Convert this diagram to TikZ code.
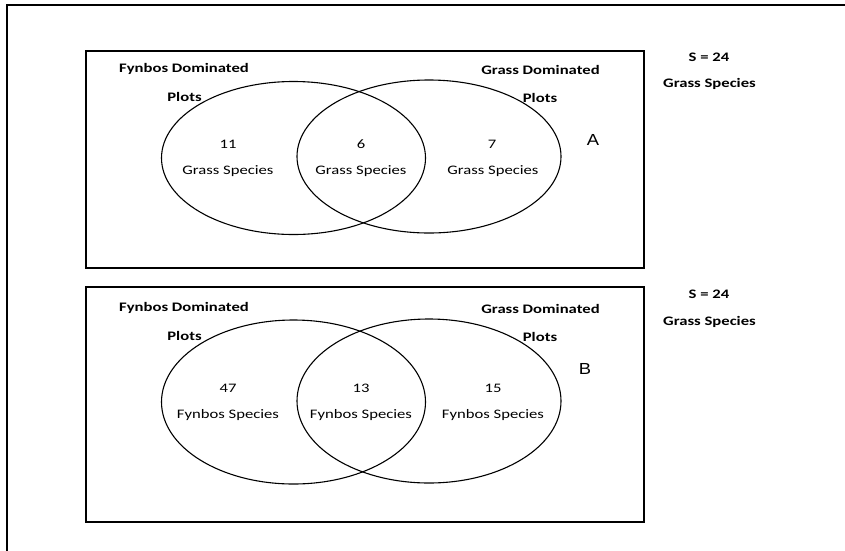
\documentclass[tikz,border=0pt]{standalone}
\usepackage{fontspec}
\setmainfont{Carlito}[FakeStretch=1.28]
\newfontfamily\panelfont{Liberation Sans}[FakeStretch=1.15]
\usetikzlibrary{shapes.geometric}
\begin{document}
\begin{tikzpicture}[x=1pt,y=-1pt,line width=1.2pt,
	every node/.style={inner sep=0pt,font=\fontsize{13}{15}\selectfont},
	heading/.style={font=\fontsize{13}{15}\selectfont\bfseries},
	setshape/.style={ellipse,draw,line width=1.1pt,minimum width=264pt}]
	\useasboundingbox (0,0) rectangle (845,550);
	\draw (7,552) -- (7,5) -- (847,5);
	
	% plot A
	\draw (86,51) rectangle (644,268);
	\begin{scope}[every node/.append style={setshape,minimum height=153pt}]
		\node (fynA) at (293.5,158) {};
		\node (grsA) at (429,156.5) {};
	\end{scope}
	\begin{scope}[every node/.append style={heading}]
		\node (fdA) at (184,69) {Fynbos Dominated};
		\node (fpA) at (184.5,97) {Plots};
		\node (gdA) at (540.5,70) {Grass Dominated};
		\node (gpA) at (540,98) {Plots};
		\node (sA) at (709,57) {S = 24};
		\node (stA) at (709.5,84) {Grass Species};
	\end{scope}
	\node (n11) at (228,144) {11};
	\node (l11) at (228,171) {Grass Species};
	\node (n6) at (361,144) {6};
	\node (l6) at (361,171) {Grass Species};
	\node (n7) at (492,144) {7};
	\node (l7) at (493,171) {Grass Species};
	\node[font=\panelfont\fontsize{16}{18}\selectfont] (labA) at (593,140) {A};
	
	% plot B
	\draw (86,287) rectangle (644,522);
	\begin{scope}[every node/.append style={setshape,minimum height=164pt}]
		\node (fynB) at (293.5,402) {};
		\node (grsB) at (429,401) {};
	\end{scope}
	\begin{scope}[every node/.append style={heading}]
		\node (fdB) at (184,308) {Fynbos Dominated};
		\node (fpB) at (184.5,336) {Plots};
		\node (gdB) at (540.5,309) {Grass Dominated};
		\node (gpB) at (540,337) {Plots};
		\node (sB) at (709,294) {S = 24};
		\node (stB) at (709.5,322) {Grass Species};
	\end{scope}
	\node (n47) at (228,388) {47};
	\node (l47) at (228,415) {Fynbos Species};
	\node (n13) at (361,388) {13};
	\node (l13) at (361,415) {Fynbos Species};
	\node (n15) at (493,388) {15};
	\node (l15) at (493,415) {Fynbos Species};
	\node[font=\panelfont\fontsize{16}{18}\selectfont] (labB) at (585,369) {B};
\end{tikzpicture}
\end{document}
